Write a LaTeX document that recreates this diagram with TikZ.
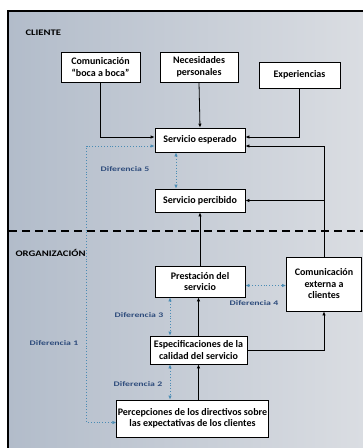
\documentclass[tikz,border=0pt]{standalone}
\usepackage{fontspec}
\setmainfont{Carlito}
\newfontfamily\widefont[FakeStretch=1.25]{Carlito}
\newfontfamily\diffont[FakeStretch=1.4]{Carlito}
\usetikzlibrary{arrows.meta}
\definecolor{GapText}{HTML}{2E4C7C}
\definecolor{GapLine}{HTML}{4A8CB4}
\definecolor{SkyDark}{HTML}{B2BCCA}
\definecolor{SkyLight}{HTML}{DADDE2}
\tikzset{>={Latex[length=4pt,width=3.5pt]},
 box/.style={draw=black,fill=white,line width=0.8pt,align=center,inner sep=1pt,
 font=\bfseries\fontsize{10}{11.5}\selectfont},
 gap/.style={draw=GapLine,dotted,line width=0.9pt,<->},
 gaplabel/.style={text=GapText,font=\diffont\bfseries\fontsize{7}{8}\selectfont},
 zone/.style={font=\widefont\bfseries\fontsize{8.5}{10}\selectfont,anchor=west},
 flow/.style={draw=black,line width=0.8pt,->}}

\begin{document}
\begin{tikzpicture}[x=1pt,y=-1pt]
\useasboundingbox (0,0) rectangle (363,448);
\fill[white] (0,0) rectangle (363,448);
\shade[left color=SkyDark,right color=SkyLight] (8,11) rectangle (363,448);
\draw[line width=2pt] (7.5,448) -- (7.5,10.5) -- (363,10.5);
\draw[line width=1.6pt,dash pattern=on 8pt off 5pt] (9,231) -- (363,231);

\node[zone] (cliente) at (22,33) {CLIENTE};
\node[zone] (org) at (12,253) {ORGANIZACIÓN};

\node[box,minimum width=79pt,minimum height=30pt] (boca) at (100.5,67) {Comunicación\\“boca a boca”};
\node[box,minimum width=78pt,minimum height=30pt] (nec) at (199,67) {Necesidades\\personales};
\node[box,minimum width=81pt,minimum height=26pt] (exp) at (299.5,75) {Experiencias};
\node[box,minimum width=90pt,minimum height=24pt] (esperado) at (200,140) {Servicio esperado};
\node[box,minimum width=90pt,minimum height=23pt] (percibido) at (200,200.5) {Servicio percibido};
\node[box,minimum width=90pt,minimum height=31pt] (prest) at (200,281.5) {Prestación del\\servicio};
\node[box,minimum width=75pt,minimum height=54pt] (comext) at (324,284) {Comunicación\\externa a\\clientes};
\node[box,minimum width=97pt,minimum height=28pt] (espec) at (198.5,350) {Especificaciones de la\\calidad del servicio};
\node[box,minimum width=151pt,minimum height=37pt] (percep) at (192.5,418.5) {Percepciones de los directivos sobre\\las expectativas de los clientes};

\draw[flow] (boca.south) |- ([yshift=3pt]esperado.west);
\draw[flow] (nec.south) -- (esperado.north);
\draw[flow] (exp.south) |- ([yshift=3pt]esperado.east);
\draw[flow] (comext.north) |- ([yshift=-6pt]esperado.east);
\draw[flow] (comext.north) |- (percibido.east);
\draw[flow] (prest.north) -- (percibido.south);
\draw[flow] (espec.north) -- (espec.north |- prest.south);
\draw[flow] (percep.north -| espec.south) -- (espec.south);
\draw[flow] (espec.east) -| (comext.south);

\draw[gap] ([xshift=-24pt]esperado.south) -- ([xshift=-24pt]percibido.north);
\draw[gap] ([yshift=-4pt]prest.east) -- ([yshift=-4pt]prest.east -| comext.west);
\draw[gap] ([xshift=-30pt]prest.south) -- ([xshift=-30pt]prest.south |- espec.north);
\draw[gap] ([xshift=-28.5pt]espec.south) -- ([xshift=-28.5pt]espec.south |- percep.north);
\draw[gap] ([yshift=-6pt]esperado.west) -- ++(-68,0) |- ([yshift=-4pt]percep.west);

\node[gaplabel] (dif5) at (125,169) {Diferencia 5};
\node[gaplabel] (dif4) at (254,303) {Diferencia 4};
\node[gaplabel] (dif3) at (139,315) {Diferencia 3};
\node[gaplabel] (dif2) at (138,384) {Diferencia 2};
\node[gaplabel] (dif1) at (54,343) {Diferencia 1};
\end{tikzpicture}
\end{document}
